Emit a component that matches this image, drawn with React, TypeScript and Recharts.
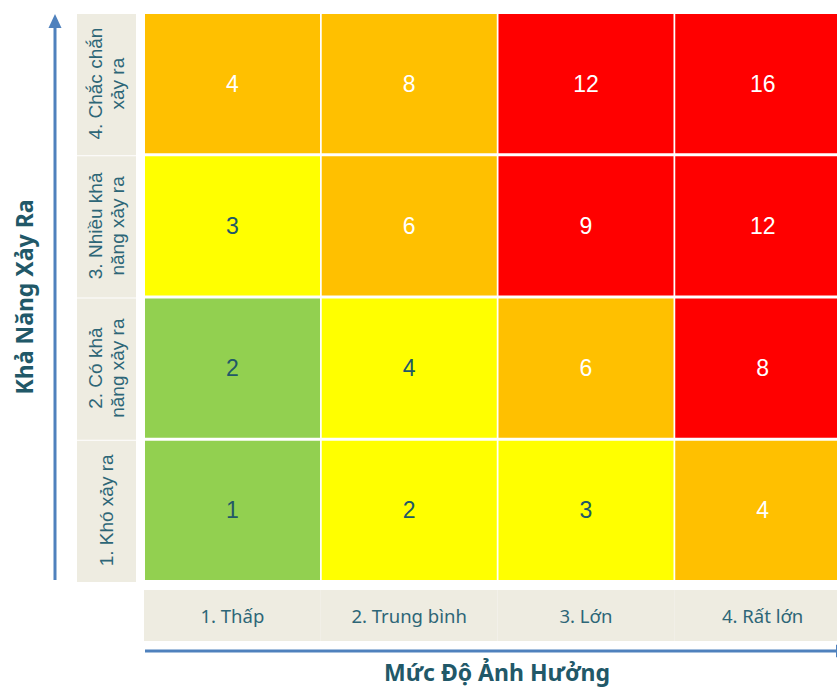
import { BarChart, Bar, XAxis, YAxis } from "recharts";

// impact (columns) and likelihood (rows, bottom to top)
const impacts = ["1. Thấp", "2. Trung bình", "3. Lớn", "4. Rất lớn"];
const likelihoods = [
  ["1. Khó xảy ra"],
  ["2. Có khả", "năng xảy ra"],
  ["3. Nhiều khả", "năng xảy ra"],
  ["4. Chắc chắn", "xảy ra"],
];
const scores = [
  [1, 2, 3, 4],
  [2, 4, 6, 8],
  [3, 6, 9, 12],
  [4, 8, 12, 16],
];
const levels = [
  ["low", "medium", "medium", "high"],
  ["low", "medium", "high", "extreme"],
  ["medium", "high", "extreme", "extreme"],
  ["high", "high", "extreme", "extreme"],
];

const LEVEL_FILL: Record<string, string> = {
  low: "#92D050",
  medium: "#FFFF00",
  high: "#FFC000",
  extreme: "#FF0000",
};
const LEVEL_TEXT: Record<string, string> = {
  low: "#215868",
  medium: "#215868",
  high: "#FFFFFF",
  extreme: "#FFFFFF",
};

const BEIGE = "#EEECE1";
const TEAL = "#2D6677";
const TITLE = "#215868";
const BLUE = "#4F81BD";

const W = 860;
const H = 688;
const M = { top: 12.5, right: 9, bottom: 46.5, left: 0 };
const Y_W = 144;
const X_H = 60;
const PLOT_H = H - M.top - M.bottom - X_H;
const ROW_H = PLOT_H / likelihoods.length;
const COL_W = (W - M.left - M.right - Y_W) / impacts.length;

const data = impacts.map((impact) => {
  const row: Record<string, any> = { impact };
  likelihoods.forEach((_, r) => (row["r" + r] = 1));
  return row;
});

const cellShape = (r: number) => (props: any) => {
  const { x, y, width, height, index } = props;
  const lv = levels[r][index];
  return (
    <g>
      <rect x={x} y={y + 1.5} width={width} height={height - 3} fill={LEVEL_FILL[lv]} />
      <text
        x={x + width / 2}
        y={y + height / 2}
        textAnchor="middle"
        dominantBaseline="central"
        fontFamily="Liberation Sans, Arial, sans-serif"
        fontSize={23}
        fill={LEVEL_TEXT[lv]}
      >
        {scores[r][index]}
      </text>
    </g>
  );
};

const YTick = (props: any) => {
  const { y, payload } = props;
  const r = Math.floor(payload.value);
  const lines = likelihoods[r];
  const cx = 106;
  return (
    <g>
      <rect x={77} y={y - ROW_H / 2 + 1.5} width={59} height={ROW_H - 1} fill={BEIGE} />
      <text
        x={cx}
        y={y}
        transform={`rotate(-90, ${cx}, ${y})`}
        textAnchor="middle"
        dominantBaseline="central"
        fontFamily="Liberation Sans, Arial, sans-serif"
        fontSize={19}
        fill={TEAL}
      >
        {lines.map((l, i) => (
          <tspan key={i} x={cx} dy={i === 0 ? -((lines.length - 1) * 22) / 2 : 22}>
            {l}
          </tspan>
        ))}
      </text>
    </g>
  );
};

const XTick = (props: any) => {
  const { x, payload } = props;
  return (
    <g>
      <rect x={x - COL_W / 2} y={590} width={COL_W} height={51} fill={BEIGE} />
      <text
        x={x}
        y={615.5}
        textAnchor="middle"
        dominantBaseline="central"
        fontFamily="Noto Sans, sans-serif"
        fontSize={18.5}
        fill={TEAL}
      >
        {payload.value}
      </text>
    </g>
  );
};

const YTitle = () => (
  <g>
    <line x1={55} y1={580} x2={55} y2={24} stroke={BLUE} strokeWidth={3} />
    <polygon points="55,14 48.5,28 61.5,28" fill={BLUE} />
    <text
      x={24}
      y={297}
      transform="rotate(-90, 24, 297)"
      textAnchor="middle"
      dominantBaseline="central"
      fontFamily="Noto Sans, sans-serif"
      fontWeight="bold"
      fontSize={23}
      fill={TITLE}
    >
      Khả Năng Xảy Ra
    </text>
  </g>
);

const XTitle = () => (
  <g>
    <line x1={145} y1={651} x2={838} y2={651} stroke={BLUE} strokeWidth={3} />
    <polygon points="850,651 836,644.5 836,657.5" fill={BLUE} />
    <text
      x={497}
      y={681}
      textAnchor="middle"
      fontFamily="Noto Sans, sans-serif"
      fontWeight="bold"
      fontSize={23}
      fill={TITLE}
    >
      Mức Độ Ảnh Hưởng
    </text>
  </g>
);

export default function App() {
  return (
    <div
      style={{
        position: "fixed",
        left: 0,
        top: 0,
        width: 837,
        height: 688,
        overflow: "hidden",
        background: "#fff",
      }}
    >
      <BarChart width={W} height={H} data={data} margin={M} barCategoryGap={1}>
        <XAxis
          dataKey="impact"
          height={X_H}
          axisLine={false}
          tickLine={false}
          interval={0}
          tick={<XTick />}
          label={{ content: <XTitle /> }}
        />
        <YAxis
          type="number"
          domain={[0, 4]}
          ticks={[0.5, 1.5, 2.5, 3.5]}
          width={Y_W}
          axisLine={false}
          tickLine={false}
          interval={0}
          tick={<YTick />}
          label={{ content: <YTitle /> }}
        />
        {likelihoods.map((_, r) => (
          <Bar
            key={r}
            dataKey={"r" + r}
            stackId="grid"
            isAnimationActive={false}
            shape={cellShape(r)}
          />
        ))}
      </BarChart>
    </div>
  );
}
